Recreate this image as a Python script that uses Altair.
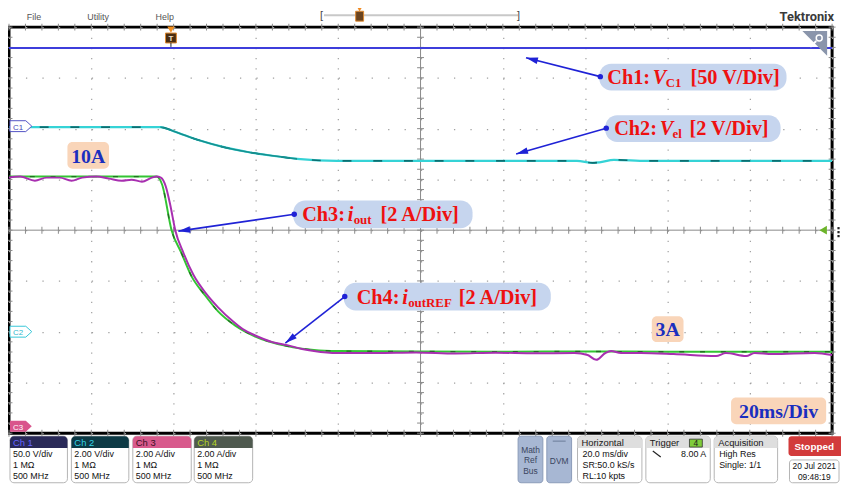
import math
import altair as alt
import pandas as pd

# ---------------- data (time in ms, values in channel units) ----------------
ch1_t = [-100, 100]
ch1_v = [77.0, 77.0]                      # V  (50 V/div)

ch2_t = [-100, -63.2, -60.0, -54.0, -48.0, -42.0, -36.0, -30.0, -20.3, 0.0, 38.0, 41.8, 43.5, 47.0, 55.0, 100]
ch2_v = [8.04, 8.04, 7.88, 7.53, 7.26, 7.06, 6.91, 6.79, 6.71, 6.71, 6.71, 6.63, 6.65, 6.75, 6.71, 6.71]  # V (2 V/div)

ch3_t = [-100, -97.3, -93.7, -90.9, -87.7, -84.8, -82.2, -78.8, -75.7, -72.6, -70.2, -67.7, -65.3, -64.1,
         -63.1, -61.9, -60.8, -59.6, -57.6, -55.2, -52.1, -49.2, -45.6, -43.2, -40.3, -36.0, -32.4, -28.8,
         -25.9, -20.3, -10.7, -1.1, 8.5, 18.2, 27.8, 37.4, 40.6, 42.7, 44.9, 46.3, 48.7, 53.5, 61.5, 71.8,
         74.2, 79.1, 81.2, 85.5, 95.8, 100]
ch3_i = [9.83, 9.87, 9.71, 9.83, 9.83, 9.71, 9.83, 9.87, 9.79, 9.71, 9.75, 9.67, 9.83, 9.87,
         9.83, 9.48, 8.74, 7.76, 6.86, 6.00, 5.26, 4.72, 4.17, 3.86, 3.62, 3.35, 3.23, 3.08,
         3.00, 2.92, 2.92, 2.94, 2.90, 2.93, 2.91, 2.92, 2.84, 2.65, 2.92, 3.00, 2.92, 2.92, 2.88, 2.80,
         2.92, 2.80, 2.92, 2.88, 2.92, 2.84]   # A (2 A/div)

ch4_t = [-100, -64.1, -62.8, -60.5, -58.1, -55.7, -52.3, -49.2, -45.1, -40.3, -32.4, -25.9, -20.3, 0, 20, 40, 60, 80, 100]
ch4_i = [9.87, 9.87, 9.56, 7.76, 6.86, 5.96, 5.18, 4.56, 4.01, 3.58, 3.19, 3.04, 3.00, 2.98, 2.97, 2.98, 2.97, 2.97, 2.97]

grid_x = [-100, -80, -60, -40, -20, 0, 20, 40, 60, 80, 100]
grid_y = [-4, -3, -2, -1, 0, 1, 2, 3, 4]

# channel scale (units/div) and ground offset (div)
CH1 = (50.0, 2.05)
CH2 = (2.0, -1.99)
CH34 = (2.0, -3.88)

# ---------------- layout ----------------
W, H = 831, 410
OX, OY = 9, 25          # plot origin on the page
UI = "Liberation Sans"

xs = alt.Scale(domain=[-100, 100], nice=False, zero=False)
ys = alt.Scale(domain=[-4, 4], nice=False, zero=False)
xax = alt.Axis(values=grid_x, grid=True, gridColor="#a0a0a0", gridDash=[1.3, 8.95], gridWidth=1.2,
               domain=False, ticks=False, labels=False, title=None)
yax = alt.Axis(values=grid_y, grid=True, gridColor="#a0a0a0", gridDash=[1.3, 15.32], gridWidth=1.2,
               domain=False, ticks=False, labels=False, title=None)

one = pd.DataFrame({"k": [0]})


def X(f="t"):
    return alt.X(f"{f}:Q", scale=xs, axis=xax)


def Y(f="d"):
    return alt.Y(f"{f}:Q", scale=ys, axis=yax)


def trace_df(t, v, ch):
    s, off = ch
    return pd.DataFrame({"t": t, "d": [val / s + off for val in v]})


def line(df, color, width, dash=None, opacity=1.0, interp="monotone"):
    kw = dict(color=color, strokeWidth=width, opacity=opacity, interpolate=interp)
    if dash:
        kw["strokeDash"] = dash
    return alt.Chart(df).mark_line(**kw).encode(x=X(), y=Y())


def rect(x1, y1, x2, y2, **kw):
    return alt.Chart(one).mark_rect(**kw).encode(
        x=alt.value(x1 - OX), x2=alt.value(x2 - OX), y=alt.value(y1 - OY), y2=alt.value(y2 - OY))


def rule(x1, y1, x2, y2, color="#000", width=1.0):
    return alt.Chart(one).mark_rule(color=color, strokeWidth=width).encode(
        x=alt.value(x1 - OX), x2=alt.value(x2 - OX), y=alt.value(y1 - OY), y2=alt.value(y2 - OY))


def text(s, x, y, size=10, color="#1a1a1a", font=UI, weight="normal", align="left",
         style="normal", baseline="alphabetic"):
    return alt.Chart(one).mark_text(text=s, fontSize=size, color=color, font=font, fontWeight=weight,
                                    align=align, baseline=baseline, fontStyle=style).encode(
        x=alt.value(x - OX), y=alt.value(y - OY))


def sym(x, y, shape, size, fill=None, stroke=None, sw=1.0, angle=0):
    kw = dict(shape=shape, size=size, opacity=1, angle=angle, strokeWidth=sw)
    if fill:
        kw["filled"] = True
        kw["fill"] = fill
    else:
        kw["filled"] = False
        kw["fill"] = "transparent"
    kw["stroke"] = stroke if stroke else (fill or "#000")
    if not stroke and fill:
        kw["strokeWidth"] = 0
    return alt.Chart(one).mark_point(**kw).encode(x=alt.value(x - OX), y=alt.value(y - OY))


layers = []

# ---------------- grid: center cross & minor ticks ----------------
layers.append(alt.Chart(pd.DataFrame({"t": [0]})).mark_rule(color="#8a8a8a", strokeWidth=1).encode(x=X()))
layers.append(alt.Chart(pd.DataFrame({"d": [0]})).mark_rule(color="#8a8a8a", strokeWidth=1).encode(y=Y()))
mx = [i * 4 for i in range(-25, 26)]
my = [i * 0.2 for i in range(-20, 21)]
tick_h = pd.DataFrame({"t": mx * 3, "d": [0] * len(mx) + [4] * len(mx) + [-4] * len(mx)})
tick_v = pd.DataFrame({"d": my * 3, "t": [0] * len(my) + [-100] * len(my) + [100] * len(my)})
layers.append(alt.Chart(tick_h).mark_tick(orient="vertical", size=7, thickness=1, color="#8a8a8a", opacity=1)
              .encode(x=X(), y=Y()))
layers.append(alt.Chart(tick_v).mark_tick(orient="horizontal", size=7, thickness=1, color="#8a8a8a", opacity=1)
              .encode(x=X(), y=Y()))

# ---------------- traces ----------------
d1 = trace_df(ch1_t, ch1_v, CH1)
d2 = trace_df(ch2_t, ch2_v, CH2)
d3 = trace_df(ch3_t, ch3_i, CH34)
d4 = trace_df(ch4_t, ch4_i, CH34)

layers.append(line(d1, "#3d3ddb", 2.0, interp="linear"))
layers.append(line(d2, "#35d3d6", 2.2))
layers.append(line(d2, "#0d6e70", 1.6, dash=[9, 22]))
layers.append(alt.Chart(d2).transform_filter("datum.t > -64 && datum.t < -22")
              .mark_line(color="#17908f", strokeWidth=1.6, interpolate="monotone").encode(x=X(), y=Y()))
layers.append(line(d4, "#33c433", 2.0))
layers.append(line(d4, "#1f5a1f", 1.4, dash=[5, 16], opacity=0.8))
layers.append(line(d3, "#a82fb0", 2.0))

# ---------------- scope markers ----------------
penta = "M -1 -0.5 L 0.45 -0.5 L 1 0 L 0.45 0.5 L -1 0.5 Z"
layers.append(sym(21, 125, penta, 484, fill="#ffffff", stroke="#5252c4", sw=1))
layers.append(text("C1", 13, 128.5, size=8, color="#4848b8"))
layers.append(sym(21, 332.5, penta, 484, fill="#ffffff", stroke="#36c6d8", sw=1))
layers.append(text("C2", 13, 336, size=8, color="#30b6cc"))
layers.append(sym(21, 428, penta, 484, fill="#d9558c"))
layers.append(text("C3", 13, 431.5, size=8, color="#ffffff"))

# trigger position marker
layers.append(sym(172.5, 27.5, "triangle-down", 55, fill="#f39020"))
layers.append(rect(167, 31, 178, 41, fill="#4a2e12", stroke="#e08a30", strokeWidth=1))
layers.append(text("T", 172.5, 39.5, size=8, color="#f0e0c8", weight="bold", align="center"))
layers.append(rule(172.5, 41, 172.5, 45, color="#222"))
# trigger level marker
layers.append(sym(831, 230, "triangle-left", 75, fill="#6cb42a"))
for yy in (228, 232, 236):
    layers.append(sym(846.5, yy, "square", 5, fill="#222"))
# zoom corner
layers.append(sym(822.5, 41.5, "M -1 -1 L 1 -1 L 1 1 Z", 625, fill="#8a95ab"))
layers.append(sym(827, 36, "circle", 36, stroke="#ffffff", sw=1.5))
layers.append(rule(824, 39, 818, 45, color="#ffffff", width=2))

# ---------------- annotations ----------------
BLUE = "#1f22d6"
RED = "#ee1111"
SERIF = "Liberation Serif"


def arrow(x0, y0, x1, y1):
    out = [rule(x0, y0, x1, y1, color=BLUE, width=1.6)]
    dx, dy = x1 - x0, y1 - y0
    L = math.hypot(dx, dy)
    ux, uy = dx / L, dy / L
    ang = math.degrees(math.atan2(ux, -uy)) % 360
    out.append(sym(x1 - ux * 6, y1 - uy * 6, "M 0 -1 L 0.55 1 L -0.55 1 Z", 144, fill=BLUE, angle=ang))
    out.append(sym(x0, y0, "circle", 30, fill=BLUE))
    return out


box_fill = "#c6d5ee"
layers.append(rect(605, 62, 794, 89, fill=box_fill, cornerRadius=12))
layers.append(rect(611, 114, 788, 141, fill=box_fill, cornerRadius=12))
layers.append(rect(296, 200, 477, 228, fill=box_fill, cornerRadius=12))
layers.append(rect(347, 283, 556, 311, fill=box_fill, cornerRadius=12))
layers += arrow(606, 75, 531, 56)
layers += arrow(612, 127, 521, 153)
layers += arrow(297, 214, 180, 231)
layers += arrow(348, 297, 288, 344)

lab = dict(color=RED, font=SERIF, weight="bold")
layers.append(text("Ch1:", 613, 82, size=20.5, **lab))
layers.append(text("V", 659, 82, size=20.5, style="italic", **lab))
layers.append(text("C1", 672, 85, size=13, **lab))
layers.append(text("[50 V/Div]", 697, 82, size=20.5, **lab))

layers.append(text("Ch2:", 620, 134, size=20.5, **lab))
layers.append(text("V", 666, 134, size=20.5, style="italic", **lab))
layers.append(text("el", 679, 137, size=13, **lab))
layers.append(text("[2 V/Div]", 696, 134, size=20.5, **lab))

layers.append(text("Ch3:", 305, 221, size=20.5, **lab))
layers.append(text("i", 351, 221, size=20.5, style="italic", **lab))
layers.append(text("out", 357, 224, size=13, **lab))
layers.append(text("[2 A/Div]", 384, 221, size=20.5, **lab))

layers.append(text("Ch4:", 360, 305, size=20.5, **lab))
layers.append(text("i", 406, 305, size=20.5, style="italic", **lab))
layers.append(text("outREF", 412, 308, size=13, **lab))
layers.append(text("[2 A/Div]", 463, 305, size=20.5, **lab))

peach = "#f9d5b9"
NAVY = "#1a2fbf"
layers.append(rect(68, 141, 110, 168, fill=peach, cornerRadius=5))
layers.append(text("10A", 89, 162, size=20, color=NAVY, font=SERIF, weight="bold", align="center"))
layers.append(rect(658, 317, 690, 343, fill=peach, cornerRadius=5))
layers.append(text("3A", 674, 337, size=20, color=NAVY, font=SERIF, weight="bold", align="center"))
layers.append(rect(738, 399, 834, 426, fill=peach, cornerRadius=5))
layers.append(text("20ms/Div", 786, 420, size=20, color=NAVY, font=SERIF, weight="bold", align="center"))

# ---------------- top bar ----------------
layers.append(text("File", 27, 17.5, size=9, color="#555555"))
layers.append(text("Utility", 88, 17.5, size=9, color="#555555"))
layers.append(text("Help", 157, 17.5, size=9, color="#555555"))
layers.append(rule(327, 13, 523, 13, color="#c8c8c8", width=2))
layers.append(text("[", 323, 17, size=11, color="#444444"))
layers.append(text("]", 522, 17, size=11, color="#444444"))
layers.append(sym(363, 7, "triangle-down", 25, fill="#f08a20"))
layers.append(rect(359, 9, 367, 19, fill="#6a4420", stroke="#e08a30", strokeWidth=1))
layers.append(text("Tektronix", 842, 19, size=13, color="#3a3a3a", font="Roboto", weight="bold", align="right"))

# ---------------- bottom panel ----------------
chans = [
    (10, 68, "#2a2a58", "#6464ff", "Ch 1", ["50.0 V/div", "1 MΩ", "500 MHz"]),
    (72, 130, "#0d3a45", "#33d2e6", "Ch 2", ["2.00 V/div", "1 MΩ", "500 MHz"]),
    (134, 193, "#d85a8c", "#3a1024", "Ch 3", ["2.00 A/div", "1 MΩ", "500 MHz"]),
    (196, 255, "#4f5a4f", "#b4d424", "Ch 4", ["2.00 A/div", "1 MΩ", "500 MHz"]),
]
for x1, x2, hf, hc, name, lines in chans:
    layers.append(rect(x1, 438, x2, 485, fill="#ffffff", stroke="#b4b4b4", strokeWidth=1, cornerRadius=4))
    layers.append(rect(x1, 438, x2, 450, fill=hf, cornerRadiusTopLeft=4, cornerRadiusTopRight=4))
    layers.append(text(name, x1 + 3, 448, size=9.5, color=hc))
    for k, s in enumerate(lines):
        layers.append(text(s, x1 + 3, 459.5 + 10.7 * k, size=9, color="#111111"))

side = "#a7b7d3"
layers.append(rect(523, 438, 548, 485, fill=side, stroke="#8b9bb8", strokeWidth=1, cornerRadius=3))
for k, s in enumerate(["Math", "Ref", "Bus"]):
    layers.append(text(s, 535.5, 455 + 10.5 * k, size=8.5, color="#3a4560", align="center"))
layers.append(rect(552, 438, 577, 485, fill=side, stroke="#8b9bb8", strokeWidth=1, cornerRadius=3))
layers.append(rule(558, 443, 571, 443, color="#6a7a98", width=1))
layers.append(text("DVM", 564.5, 466, size=8.5, color="#3a4560", align="center"))

infos = [
    (583, 648, "Horizontal", ["20.0 ms/div", "SR:50.0 kS/s", "RL:10 kpts"]),
    (652, 717, "Trigger", []),
    (721, 785, "Acquisition", ["High Res", "Single: 1/1"]),
]
for x1, x2, name, lines in infos:
    layers.append(rect(x1, 438, x2, 485, fill="#ffffff", stroke="#b4b4b4", strokeWidth=1, cornerRadius=4))
    layers.append(rect(x1, 438, x2, 450, fill="#dedede", cornerRadiusTopLeft=4, cornerRadiusTopRight=4))
    layers.append(text(name, x1 + 4, 448, size=9.5, color="#1a1a1a"))
    for k, s in enumerate(lines):
        layers.append(text(s, x1 + 5, 459.5 + 10.7 * k, size=9, color="#111111"))
layers.append(rect(696, 441, 709, 449, fill="#7fcc3a", stroke="#333333", strokeWidth=0.8))
layers.append(text("4", 702.5, 448, size=8.5, color="#1a1a1a", align="center"))
layers.append(rule(659, 453, 667, 459, color="#222222", width=1.2))
layers.append(text("8.00 A", 713, 459.5, size=9, color="#111111", align="right"))

layers.append(rect(796, 438, 852, 458, fill="#d23b3b", cornerRadius=3))
layers.append(text("Stopped", 822, 452, size=10, color="#ffffff", weight="bold", align="center"))
layers.append(rect(797, 462, 847, 485, fill="#ffffff", stroke="#b4b4b4", strokeWidth=1, cornerRadius=3))
layers.append(text("20 Jul 2021", 822, 471.5, size=8.5, color="#111111", align="center"))
layers.append(text("09:48:19", 822, 482.5, size=8.5, color="#111111", align="center"))

chart = alt.layer(*layers).properties(
    width=W, height=H,
    padding={"left": 1, "top": 17, "right": 9, "bottom": 51},
    autosize=alt.AutoSizeParams(type="none"),
    background="#ffffff",
).configure_view(stroke="#000000", strokeWidth=3)

chart.save("out.html", embed_options={"renderer": "svg", "actions": False})
